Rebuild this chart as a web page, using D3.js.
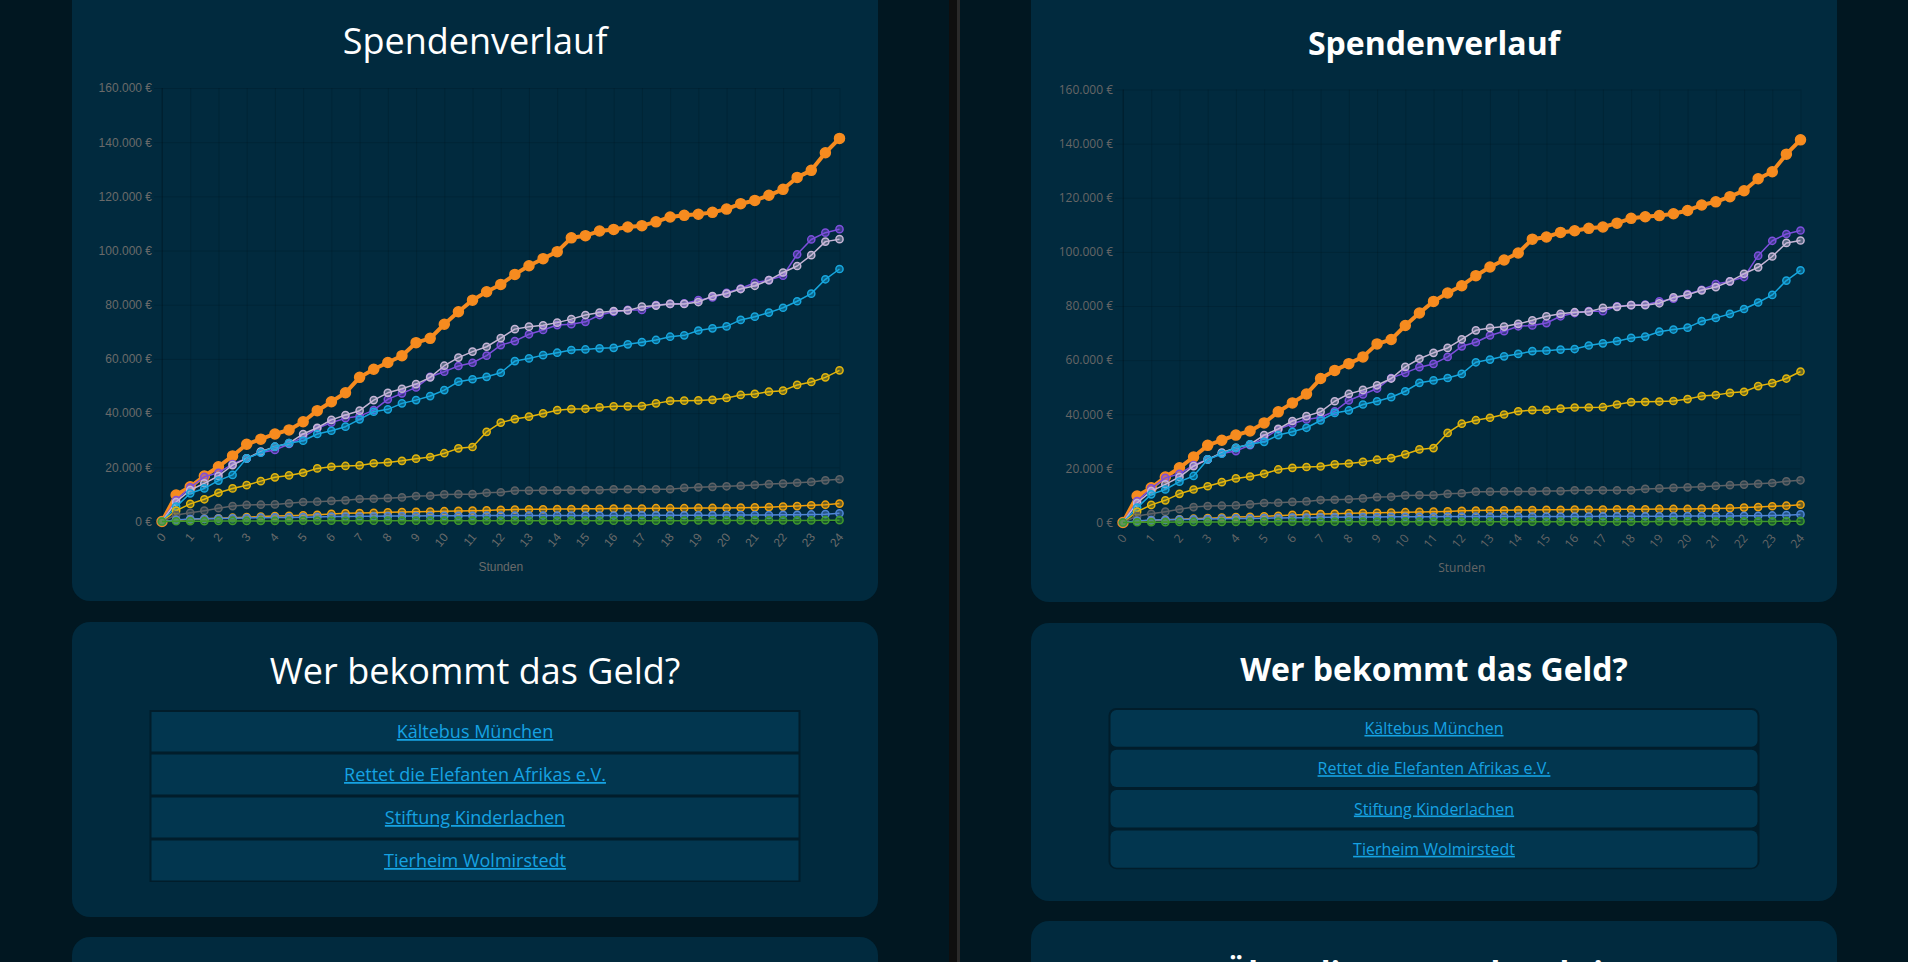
<!DOCTYPE html>
<html>
<head>
<meta charset="utf-8">
<script src="https://cdn.jsdelivr.net/npm/d3@7"></script>
<style>
  html, body { margin: 0; padding: 0; background: #011721; overflow: hidden; }
  #page { position: relative; width: 1908px; height: 962px; }
  svg { position: absolute; top: 0; }
</style>
</head>
<body>
<div id="page"></div>
<script>
// half-hour steps 0 .. 24 h, values in thousand euro
const xTicks = [0, 1, 2, 3, 4, 5, 6, 7, 8, 9, 10, 11, 12, 13, 14, 15, 16, 17, 18, 19, 20, 21, 22, 23, 24]
const yTicks = [0, 20000, 40000, 60000, 80000, 100000, 120000, 140000, 160000]

const total = [0, 9.8, 12.8, 16.8, 20.2, 24.2, 28.5, 30.4, 32.3, 33.8, 36.8, 40.9, 44.2, 47.5, 53.2, 56.2, 58.7,
  61.2, 66.0, 67.6, 72.8, 77.4, 81.7, 84.8, 87.5, 91.2, 94.4, 97.0, 99.6, 104.7, 105.5, 107.2, 107.8,
  108.7, 109.2, 110.6, 112.4, 113.0, 113.4, 114.1, 115.3, 117.3, 118.5, 120.4, 122.6, 127.0, 129.6, 136.1, 141.4]
const purple = [0, 7.9, 12.6, 16.5, 18.0, 21.2, 23.3, 25.5, 26.4, 28.6, 31.1, 34.4, 36.5, 38.1, 38.9, 41.1, 45.1,
  47.3, 49.5, 53.4, 55.3, 57.4, 58.6, 61.2, 65.1, 66.6, 69.1, 70.7, 72.5, 72.8, 73.7, 76.2, 77.4,
  78.1, 78.1, 79.9, 80.3, 80.5, 81.7, 82.7, 84.4, 86.0, 88.1, 89.1, 90.7, 98.6, 104.1, 106.6, 107.9]
const lavender = [0, 7.2, 11.6, 14.1, 16.8, 20.8, 23.3, 25.8, 27.6, 28.9, 32.3, 34.6, 37.5, 39.3, 40.9, 44.8, 47.5,
  49.0, 50.7, 53.2, 57.5, 60.5, 62.7, 64.5, 67.7, 71.0, 71.9, 72.4, 73.4, 74.7, 76.2, 77.1, 77.7,
  77.9, 79.3, 79.7, 80.3, 80.3, 81.0, 83.2, 84.1, 85.8, 87.0, 89.1, 91.9, 94.3, 98.3, 103.3, 104.2]
const cyan = [0, 5.5, 10.4, 12.2, 15.1, 17.2, 23.3, 25.4, 27.6, 28.9, 29.8, 32.3, 33.5, 35.0, 37.7, 40.5, 41.4,
  43.6, 44.8, 46.3, 48.5, 51.6, 52.5, 53.4, 54.9, 59.2, 60.2, 61.4, 62.3, 63.3, 63.5, 63.9, 64.1,
  65.4, 66.2, 67.0, 68.2, 68.7, 70.5, 71.3, 72.0, 74.4, 75.6, 77.1, 78.9, 81.3, 84.1, 89.4, 93.2]
const yellow = [0, 4.0, 6.5, 8.2, 10.6, 12.2, 13.4, 14.9, 16.3, 17.0, 18.0, 19.6, 20.2, 20.5, 20.7, 21.5, 21.8,
  22.4, 23.2, 23.8, 25.2, 27.0, 27.5, 33.1, 36.5, 37.8, 38.7, 39.9, 41.1, 41.5, 41.6, 42.1, 42.5,
  42.5, 42.6, 43.6, 44.5, 44.6, 44.7, 44.9, 45.6, 46.7, 47.1, 47.9, 48.3, 50.4, 51.5, 53.2, 55.8]
const gray = [0, 2.4, 3.2, 4.0, 4.9, 5.7, 6.1, 6.2, 6.3, 6.7, 7.2, 7.3, 7.6, 7.8, 8.3, 8.4, 8.6,
  8.9, 9.4, 9.5, 10.0, 10.1, 10.1, 10.6, 10.8, 11.4, 11.4, 11.5, 11.5, 11.5, 11.6, 11.6, 11.9,
  11.9, 11.9, 11.9, 11.9, 12.4, 12.6, 12.8, 13.0, 13.2, 13.5, 13.8, 14.0, 14.3, 14.6, 15.2, 15.6]
const gold = [0, 0.5, 0.8, 1.0, 1.2, 1.4, 1.6, 1.8, 2.0, 2.1, 2.3, 2.5, 2.8, 3.0, 3.1, 3.2, 3.4,
  3.5, 3.6, 3.7, 3.8, 3.9, 4.0, 4.1, 4.3, 4.4, 4.5, 4.5, 4.6, 4.6, 4.7, 4.7, 4.8,
  4.8, 4.8, 4.9, 4.9, 4.9, 5.0, 5.0, 5.0, 5.1, 5.2, 5.3, 5.5, 5.7, 6.0, 6.2, 6.6]
const blue = [0, 0.6, 0.9, 1.0, 1.1, 1.2, 1.3, 1.4, 1.5, 1.5, 1.6, 1.7, 1.8, 1.8, 1.9, 1.9, 2.0,
  2.0, 2.0, 2.1, 2.1, 2.1, 2.1, 2.2, 2.2, 2.2, 2.2, 2.2, 2.2, 2.2, 2.2, 2.2, 2.2,
  2.2, 2.3, 2.3, 2.3, 2.3, 2.3, 2.3, 2.4, 2.4, 2.4, 2.4, 2.5, 2.5, 2.6, 2.7, 3.0]
const green = [0, 0.1, 0.1, 0.1, 0.2, 0.2, 0.2, 0.2, 0.2, 0.2, 0.3, 0.3, 0.3, 0.3, 0.3, 0.3, 0.3,
  0.3, 0.3, 0.3, 0.3, 0.3, 0.3, 0.3, 0.3, 0.3, 0.3, 0.3, 0.3, 0.3, 0.3, 0.3, 0.3,
  0.3, 0.3, 0.3, 0.3, 0.3, 0.4, 0.4, 0.4, 0.4, 0.4, 0.4, 0.4, 0.4, 0.4, 0.5, 0.5]

const recipients = ['Kältebus München', 'Rettet die Elefanten Afrikas e.V.', 'Stiftung Kinderlachen', 'Tierheim Wolmirstedt']

// bottom-most first, last one is drawn on top
const series = [
  { values: total, color: '#f68b1f', big: true },
  { values: purple, color: '#7d4fdc' },
  { values: lavender, color: '#c6b6d6' },
  { values: cyan, color: '#17a6dd' },
  { values: yellow, color: '#e3b50c' },
  { values: gray, color: '#5e6266' },
  { values: gold, color: '#f0a10c' },
  { values: blue, color: '#4f86d6' },
  { values: green, color: '#3f9a2c' },
]

const euro = d3.formatLocale({ decimal: ',', thousands: '.', grouping: [3], currency: ['', ' €'] }).format('$,.0f')

const panes = [
  {
    left: 0, width: 949,
    titleFont: '"Open Sans"', titleWeight: 400, titleSize: 36,
    tickFont: '"Liberation Sans", Arial, sans-serif', tickColor: '#6a6a6a',
    x0: 162, x24: 839.5, y0: 521.5, y160: 88,
    title1Y: 54, card1Bottom: 601,
    card2Top: 622, card2Bottom: 917, title2Y: 684,
    listTop: 710, rowH: 43, listRadius: 0, linkSize: 18,
    card3Top: 937,
  },
  {
    left: 960, width: 948,
    titleFont: '"Open Sans"', titleWeight: 700, titleSize: 32,
    tickFont: '"Open Sans", sans-serif', tickColor: '#666',
    x0: 163, x24: 840.5, y0: 522.5, y160: 89.5,
    title1Y: 55, card1Bottom: 602,
    card2Top: 623, card2Bottom: 901, title2Y: 681,
    listTop: 708, rowH: 40.3, listRadius: 8, linkSize: 16,
    card3Top: 921, title3: 'Über diese Spendenaktion', title3Y: 985,
  },
]

const CARD_W = 806
const CARD_BG = '#012a3e'
const GRID = 'rgba(0,0,0,0.13)'

const drawChart = (svg, p) => {
  const x = d3.scaleLinear().domain([0, 24]).range([p.x0, p.x24])
  const y = d3.scaleLinear().domain([0, 160000]).range([p.y0, p.y160])
  const chart = svg.append('g')

  chart
    .append('g')
    .attr('transform', `translate(${p.x0},0)`)
    .call(d3.axisLeft(y).tickValues(yTicks).tickFormat(euro).tickSize(-(p.x24 - p.x0)).tickPadding(10))
    .call((g) => g.select('.domain').remove())
    .call((g) => g.selectAll('.tick line').attr('x1', -8).attr('stroke', GRID))
    .call((g) =>
      g.selectAll('.tick text').attr('fill', p.tickColor).attr('font-family', p.tickFont).attr('font-size', 12)
    )

  chart
    .append('g')
    .attr('transform', `translate(0,${p.y0})`)
    .call(d3.axisBottom(x).tickValues(xTicks).tickFormat((d) => d).tickSize(-(p.y0 - p.y160)))
    .call((g) => g.select('.domain').remove())
    .call((g) => g.selectAll('.tick line').attr('y1', 8).attr('stroke', GRID))
    .call((g) =>
      g
        .selectAll('.tick text')
        .attr('fill', p.tickColor)
        .attr('font-family', p.tickFont)
        .attr('font-size', 12)
        .attr('text-anchor', 'end')
        .attr('dy', 0)
        .attr('y', 0)
        .attr('transform', 'translate(4,16) rotate(-50)')
    )

  // axis borders sit a touch darker than the grid
  chart.append('line')
    .attr('x1', p.x0).attr('x2', p.x0).attr('y1', p.y160).attr('y2', p.y0 + 8)
    .attr('stroke', 'rgba(0,0,0,0.2)')
  chart.append('line')
    .attr('x1', p.x0 - 8).attr('x2', p.x24).attr('y1', p.y0).attr('y2', p.y0)
    .attr('stroke', 'rgba(0,0,0,0.2)')

  chart
    .append('text')
    .attr('x', (p.x0 + p.x24) / 2)
    .attr('y', p.y0 + 49)
    .attr('text-anchor', 'middle')
    .attr('fill', p.tickColor)
    .attr('font-family', p.tickFont)
    .attr('font-size', 12)
    .text('Stunden')

  const line = d3
    .line()
    .x((d, i) => x(i / 2))
    .y((d) => y(d * 1000))

  series.forEach((s) => {
    const g = chart.append('g')
    g.append('path')
      .attr('d', line(s.values))
      .attr('fill', 'none')
      .attr('stroke', s.color)
      .attr('stroke-width', s.big ? 4 : 1.5)
      .attr('stroke-linejoin', 'round')

    g.selectAll('circle')
      .data(s.values)
      .join('circle')
      .attr('cx', (d, i) => x(i / 2))
      .attr('cy', (d) => y(d * 1000))
      .attr('r', s.big ? 5 : 3.6)
      .attr('fill', s.color)
      .attr('fill-opacity', s.big ? 1 : 0.45)
      .attr('stroke', s.color)
      .attr('stroke-width', 1.5)
  })
}

const drawList = (svg, p, cardX) => {
  const listX = cardX + 77.5
  const listW = 651
  const listH = p.rowH * recipients.length
  svg.append('rect')
    .attr('x', listX).attr('y', p.listTop)
    .attr('width', listW).attr('height', listH)
    .attr('rx', p.listRadius)
    .attr('fill', '#011d2b')

  recipients.forEach((name, i) => {
    const top = p.listTop + i * p.rowH
    svg.append('rect')
      .attr('x', listX + 2).attr('y', top + (i === 0 ? 2 : 1.5))
      .attr('width', listW - 4).attr('height', p.rowH - (i === 0 ? 3.5 : 3))
      .attr('rx', p.listRadius ? p.listRadius - 2 : 0)
      .attr('fill', '#02364f')
    svg.append('text')
      .attr('x', listX + listW / 2)
      .attr('y', top + p.rowH / 2 + p.linkSize * 0.36)
      .attr('text-anchor', 'middle')
      .attr('fill', '#16a2e2')
      .attr('font-family', p.titleFont)
      .attr('font-size', p.linkSize)
      .attr('text-decoration', 'underline')
      .text(name)
  })
}

const page = d3.select('#page')

panes.forEach((p) => {
  const svg = page
    .append('svg')
    .style('left', `${p.left}px`)
    .attr('width', p.width)
    .attr('height', 962)

  svg.append('rect').attr('width', p.width).attr('height', 962).attr('fill', '#011721')

  const cardX = Math.round((p.width - CARD_W) / 2)
  const cardCx = cardX + CARD_W / 2

  svg.append('rect')
    .attr('x', cardX).attr('y', -20)
    .attr('width', CARD_W).attr('height', p.card1Bottom + 20)
    .attr('rx', 18).attr('fill', CARD_BG)

  svg.append('text')
    .attr('x', cardCx).attr('y', p.title1Y)
    .attr('text-anchor', 'middle')
    .attr('fill', '#fff')
    .attr('font-family', p.titleFont)
    .attr('font-weight', p.titleWeight)
    .attr('font-size', p.titleSize)
    .text('Spendenverlauf')

  drawChart(svg, p)

  svg.append('rect')
    .attr('x', cardX).attr('y', p.card2Top)
    .attr('width', CARD_W).attr('height', p.card2Bottom - p.card2Top)
    .attr('rx', 18).attr('fill', CARD_BG)

  svg.append('text')
    .attr('x', cardCx).attr('y', p.title2Y)
    .attr('text-anchor', 'middle')
    .attr('fill', '#fff')
    .attr('font-family', p.titleFont)
    .attr('font-weight', p.titleWeight)
    .attr('font-size', p.titleSize)
    .text('Wer bekommt das Geld?')

  drawList(svg, p, cardX)

  svg.append('rect')
    .attr('x', cardX).attr('y', p.card3Top)
    .attr('width', CARD_W).attr('height', 200)
    .attr('rx', 18).attr('fill', CARD_BG)

  if (p.title3) {
    svg.append('text')
      .attr('x', cardCx).attr('y', p.title3Y)
      .attr('text-anchor', 'middle')
      .attr('fill', '#fff')
      .attr('font-family', p.titleFont)
      .attr('font-weight', p.titleWeight)
      .attr('font-size', p.titleSize)
      .text(p.title3)
  }
})

// split between the two panes
const divider = page.append('svg').style('left', '949px').attr('width', 11).attr('height', 962)
divider.append('rect').attr('width', 8).attr('height', 962).attr('fill', '#0f0f0f')
divider.append('rect').attr('x', 8).attr('width', 3).attr('height', 962).attr('fill', '#2a2a2a')
</script>
</body>
</html>
